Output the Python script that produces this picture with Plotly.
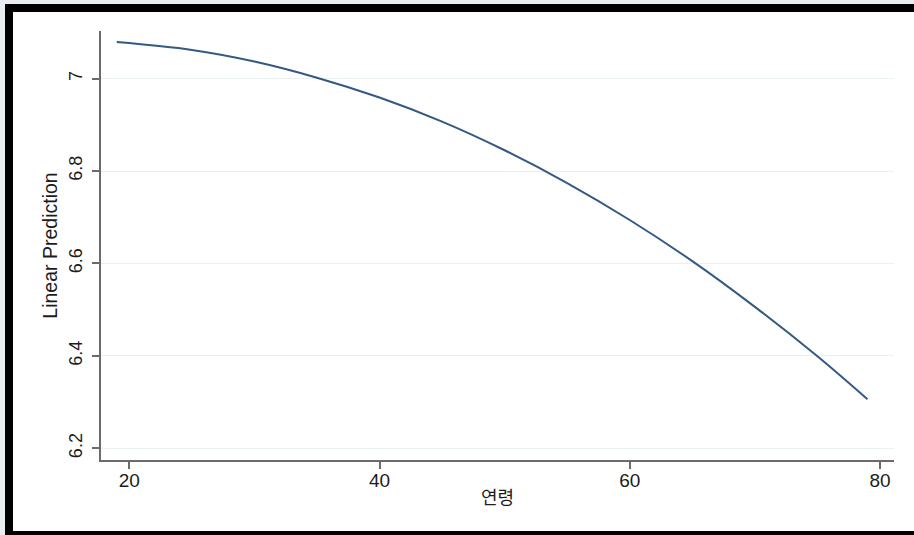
import plotly.graph_objects as go

# Predicted values of the quadratic age model
age = [19, 25, 30, 35, 40, 45, 50, 55, 60, 65, 70, 75, 79]
prediction = [7.079, 7.062, 7.037, 7.002, 6.959, 6.907, 6.845, 6.774, 6.694, 6.605, 6.506, 6.399, 6.306]

x_ticks = [20, 40, 60, 80]
y_ticks = [6.2, 6.4, 6.6, 6.8, 7.0]
y_tick_text = ["6.2", "6.4", "6.6", "6.8", "7"]

x_title = "연령"
y_title = "Linear Prediction"

W, H = 914, 535
ML, MR, MT, MB = 101, 20, 31, 75
PW, PH = W - ML - MR, H - MT - MB


def px_x(p):
    return (p - ML) / PW


def px_y(p):
    return (H - MB - p) / PH


axis_col = "#6b6b6b"
text_col = "#1c1c1c"
grid_col = "#eaf1f3"
font_latin = "Liberation Sans, Arial, sans-serif"

fig = go.Figure()
fig.add_trace(go.Scatter(
    x=age, y=prediction, mode="lines",
    line=dict(color="#345982", width=2, shape="spline", smoothing=1.0),
    hoverinfo="skip", showlegend=False,
))

# framed white page with a heavy black border
fig.add_shape(
    type="rect", xref="paper", yref="paper", layer="below",
    x0=px_x(9), x1=px_x(930), y0=px_y(535), y1=px_y(8),
    line=dict(color="black", width=8), fillcolor="white",
)

fig.update_layout(
    width=W, height=H,
    margin=dict(l=ML, r=MR, t=MT, b=MB, pad=0),
    paper_bgcolor="#e9edf1",
    plot_bgcolor="white",
    font=dict(family=font_latin, size=18, color=text_col),
    xaxis=dict(
        range=[17.74, 81.12], tickvals=x_ticks, ticktext=[str(t) for t in x_ticks],
        showgrid=False, zeroline=False,
        showline=True, linecolor=axis_col, linewidth=1.5,
        ticks="outside", ticklen=7, tickcolor=axis_col, tickwidth=1.5,
        ticklabelstandoff=-5,
        tickfont=dict(family=font_latin, size=19, color=text_col),
        title=dict(text=x_title, standoff=2,
                   font=dict(family="Noto Sans CJK KR", size=18, color=text_col)),
    ),
    yaxis=dict(
        range=[6.1747, 7.103], tickvals=y_ticks, ticktext=y_tick_text,
        tickangle=-90,
        showgrid=True, gridcolor=grid_col, gridwidth=1.2, zeroline=False,
        showline=True, linecolor=axis_col, linewidth=1.5,
        ticks="outside", ticklen=7, tickcolor=axis_col, tickwidth=1.5,
        ticklabelstandoff=3,
        tickfont=dict(family=font_latin, size=18, color=text_col),
        title=dict(text=y_title, standoff=3,
                   font=dict(family=font_latin, size=19.5, color=text_col)),
    ),
)

fig.write_html("out.html")
